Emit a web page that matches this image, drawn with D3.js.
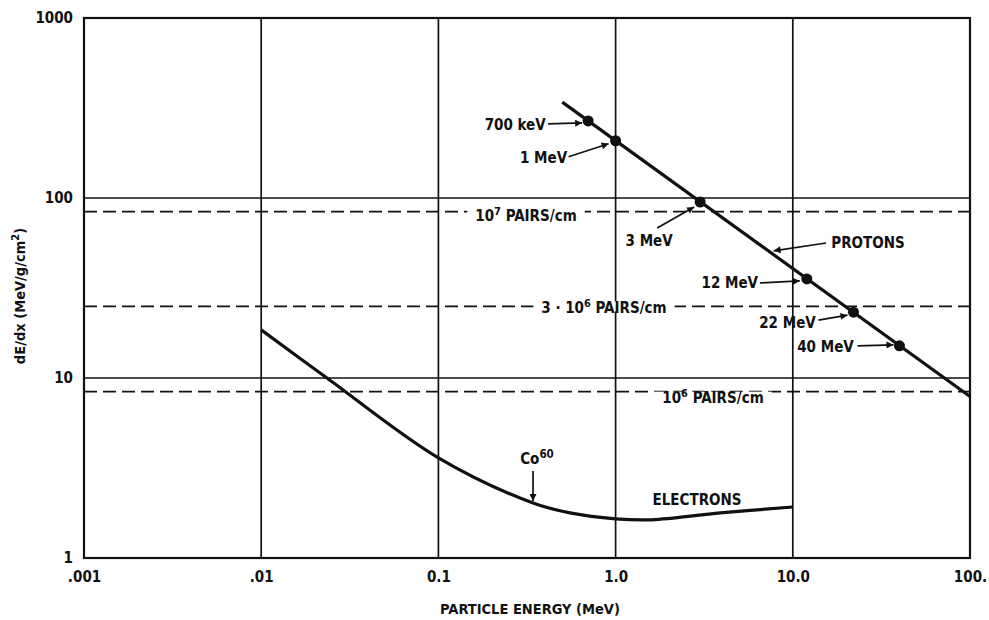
<!DOCTYPE html>
<html>
<head>
<meta charset="utf-8">
<script src="https://cdn.jsdelivr.net/npm/d3@7"></script>
<style>
  html, body { margin: 0; padding: 0; background: #fff; }
  svg text {
    font-family: "Liberation Sans Narrow", "Arial Narrow", "DejaVu Sans Condensed", "Liberation Sans", sans-serif;
    font-weight: bold;
    fill: #111;
  }
</style>
</head>
<body>
<svg id="chart" width="989" height="620"></svg>
<script>
// Axis decades and their printed labels
const xTickValues = [0.001, 0.01, 0.1, 1, 10, 100];
const xTickLabels = [".001", ".01", "0.1", "1.0", "10.0", "100."];
const yTickValues = [1, 10, 100, 1000];
const yTickLabels = ["1", "10", "100", "1000"];

// Ion-pair density reference levels (dashed)
const pairLevels = [84, 25, 8.4];

// Proton stopping power (straight line on log-log)
const protonEnergy = [0.5, 100];
const protonDEDX = [341, 7.9];

// Marked proton energies
const protonPointEnergy = [0.7, 1, 3, 12, 22, 40];
const protonPointDEDX = [268, 208, 95, 35.5, 23.2, 15.1];
const protonPointLabels = ["700 keV", "1 MeV", "3 MeV", "12 MeV", "22 MeV", "40 MeV"];

// Electron stopping power
const electronEnergy = [0.01, 0.0235, 0.1, 0.342, 0.553, 1.0, 1.6, 3.9, 10];
const electronDEDX = [18.5, 10, 3.6, 2.02, 1.78, 1.65, 1.63, 1.78, 1.92];

const svg = d3.select("#chart");
const plotLeft = 84, plotRight = 970, plotTop = 18, plotBottom = 558;
const FS = 15;

const x = d3.scaleLog().domain([0.001, 100]).range([plotLeft, plotRight]);
const y = d3.scaleLog().domain([1, 1000]).range([plotBottom, plotTop]);

// Arrowhead marker
svg.append("defs").append("marker")
  .attr("id", "arrow")
  .attr("viewBox", "0 0 10 10")
  .attr("refX", 10).attr("refY", 5)
  .attr("markerWidth", 11).attr("markerHeight", 7)
  .attr("markerUnits", "userSpaceOnUse")
  .attr("orient", "auto")
  .append("path").attr("d", "M0,0 L10,5 L0,10 z").attr("fill", "#111");

// Grid: vertical decades
svg.append("g").selectAll("line").data(xTickValues.slice(1, -1)).join("line")
  .attr("x1", d => x(d)).attr("x2", d => x(d))
  .attr("y1", plotTop).attr("y2", plotBottom)
  .attr("stroke", "#111").attr("stroke-width", 1.7);

// Grid: horizontal decades
svg.append("g").selectAll("line").data(yTickValues.slice(1, -1)).join("line")
  .attr("x1", plotLeft).attr("x2", plotRight)
  .attr("y1", d => y(d)).attr("y2", d => y(d))
  .attr("stroke", "#111").attr("stroke-width", 1.7);

// Dashed pair-density levels
svg.append("g").selectAll("line").data(pairLevels).join("line")
  .attr("x1", plotLeft).attr("x2", plotRight)
  .attr("y1", d => y(d)).attr("y2", d => y(d))
  .attr("stroke", "#111").attr("stroke-width", 1.9)
  .attr("stroke-dasharray", "13,6");

// Frame
svg.append("rect")
  .attr("x", plotLeft).attr("y", plotTop)
  .attr("width", plotRight - plotLeft).attr("height", plotBottom - plotTop)
  .attr("fill", "none").attr("stroke", "#111").attr("stroke-width", 2.2);

// Axes (labels only; frame drawn above)
const xAxis = d3.axisBottom(x).tickValues(xTickValues)
  .tickFormat((d, i) => xTickLabels[i]).tickSize(0).tickPadding(13);
const gx = svg.append("g").attr("transform", `translate(0,${plotBottom})`).call(xAxis);
gx.select(".domain").remove();
gx.attr("font-family", null).attr("font-size", null);
gx.selectAll("text").attr("font-size", FS).attr("fill", "#111");

const yAxis = d3.axisLeft(y).tickValues(yTickValues)
  .tickFormat((d, i) => yTickLabels[i]).tickSize(0).tickPadding(11);
const gy = svg.append("g").attr("transform", `translate(${plotLeft},0)`).call(yAxis);
gy.select(".domain").remove();
gy.attr("font-family", null).attr("font-size", null);
gy.selectAll("text").attr("font-size", FS).attr("fill", "#111");

// Axis titles
svg.append("text")
  .attr("x", 530).attr("y", 614)
  .attr("text-anchor", "middle").attr("font-size", 14.5)
  .text("PARTICLE ENERGY (MeV)");

const yt = svg.append("text")
  .attr("transform", "translate(25,296) rotate(-90)")
  .attr("text-anchor", "middle").attr("font-size", 14.5);
yt.append("tspan").text("dE/dx (MeV/g/cm");
yt.append("tspan").attr("dy", -6).attr("font-size", 11).text("2");
yt.append("tspan").attr("dy", 6).text(")");

// Pair-density labels with white backing over the dashes
function pairLabel(cx, cy, parts) {
  const t = svg.append("text").attr("x", cx).attr("y", cy + 5.5)
    .attr("text-anchor", "middle").attr("font-size", FS);
  parts.forEach(p => {
    const s = t.append("tspan").text(p.t);
    if (p.sup) s.attr("dy", -6).attr("font-size", 11);
    if (p.down) s.attr("dy", 6);
  });
  const bb = t.node().getBBox();
  svg.insert("rect", () => t.node())
    .attr("x", bb.x - 8).attr("y", cy - 6)
    .attr("width", bb.width + 16).attr("height", 10)
    .attr("fill", "#fff");
}
pairLabel(526, y(pairLevels[0]) + 4, [{t: "10"}, {t: "7", sup: true}, {t: " PAIRS/cm", down: true}]);
pairLabel(604, y(pairLevels[1]) + 1, [{t: "3 · 10"}, {t: "6", sup: true}, {t: " PAIRS/cm", down: true}]);
pairLabel(713, y(pairLevels[2]) + 6, [{t: "10"}, {t: "6", sup: true}, {t: " PAIRS/cm", down: true}]);

// Proton line
const line = d3.line().x(d => x(d[0])).y(d => y(d[1]));
svg.append("path")
  .datum(d3.zip(protonEnergy, protonDEDX))
  .attr("d", line)
  .attr("fill", "none").attr("stroke", "#111").attr("stroke-width", 3.2);

// Electron curve
svg.append("path")
  .datum(d3.zip(electronEnergy, electronDEDX))
  .attr("d", line.curve(d3.curveCatmullRom.alpha(0.5)))
  .attr("fill", "none").attr("stroke", "#111").attr("stroke-width", 3.2);

// Proton markers
svg.append("g").selectAll("circle").data(d3.zip(protonPointEnergy, protonPointDEDX)).join("circle")
  .attr("cx", d => x(d[0])).attr("cy", d => y(d[1])).attr("r", 5.5).attr("fill", "#111");

// Marker labels: text centre and arrow start/end relative to the point
const labelLayout = [
  {dx: -73, dy: 4,  ax: -40, ay: 3,  tipx: -6, tipy: 2},   // 700 keV
  {dx: -72, dy: 17, ax: -47, ay: 16, tipx: -7, tipy: 3},   // 1 MeV
  {dx: -51, dy: 38, ax: -43, ay: 26, tipx: -6, tipy: 5},   // 3 MeV
  {dx: -77, dy: 4,  ax: -47, ay: 4,  tipx: -7, tipy: 2},   // 12 MeV
  {dx: -66, dy: 10, ax: -35, ay: 8,  tipx: -6, tipy: 3},   // 22 MeV
  {dx: -74, dy: 1,  ax: -42, ay: 0,  tipx: -6, tipy: -1}   // 40 MeV
];
protonPointEnergy.forEach((e, i) => {
  const px = x(e), py = y(protonPointDEDX[i]), L = labelLayout[i];
  svg.append("text").attr("x", px + L.dx).attr("y", py + L.dy + 5.5)
    .attr("text-anchor", "middle").attr("font-size", FS).text(protonPointLabels[i]);
  svg.append("line")
    .attr("x1", px + L.ax).attr("y1", py + L.ay)
    .attr("x2", px + L.tipx).attr("y2", py + L.tipy)
    .attr("stroke", "#111").attr("stroke-width", 1.7)
    .attr("marker-end", "url(#arrow)");
});

// PROTONS label with arrow to the line
const pE = 7.4;
const logInterp = d3.scaleLinear().domain(protonEnergy.map(Math.log10)).range(protonDEDX.map(Math.log10));
const pY = y(Math.pow(10, logInterp(Math.log10(pE))));
svg.append("text").attr("x", 868).attr("y", 248).attr("text-anchor", "middle").attr("font-size", FS).text("PROTONS");
svg.append("line")
  .attr("x1", 826).attr("y1", 243).attr("x2", x(pE) + 4).attr("y2", pY - 1)
  .attr("stroke", "#111").attr("stroke-width", 1.7).attr("marker-end", "url(#arrow)");

// Co-60 marker on the electron curve
const coE = 0.342, coD = 2.02;
const co = svg.append("text").attr("x", 537).attr("y", 464).attr("text-anchor", "middle").attr("font-size", FS);
co.append("tspan").text("Co");
co.append("tspan").attr("dy", -6).attr("font-size", 11.5).text("60");
svg.append("line")
  .attr("x1", x(coE)).attr("y1", 471).attr("x2", x(coE)).attr("y2", y(coD) - 2)
  .attr("stroke", "#111").attr("stroke-width", 1.7).attr("marker-end", "url(#arrow)");

svg.append("text").attr("x", 697).attr("y", 505).attr("text-anchor", "middle").attr("font-size", FS).text("ELECTRONS");
</script>
</body>
</html>
